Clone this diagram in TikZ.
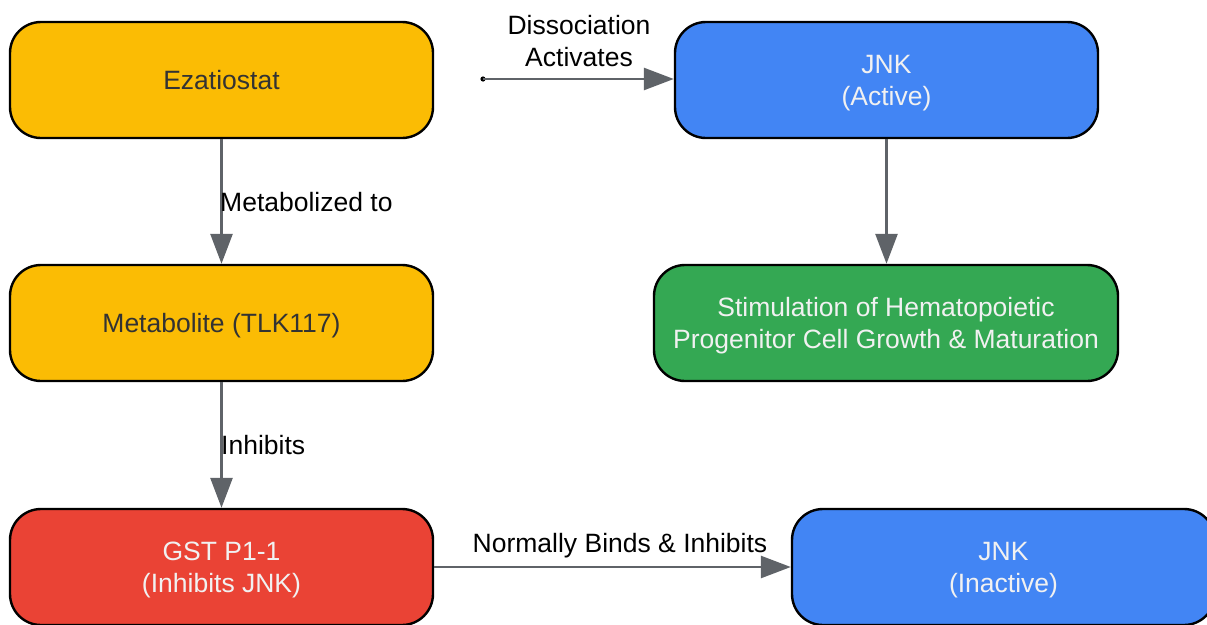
\documentclass[tikz,border=0pt]{standalone}
\usepackage{fontspec}
\setmainfont{Liberation Sans}
\usetikzlibrary{arrows.meta}
\definecolor{gyellow}{HTML}{FBBC04}
\definecolor{gblue}{HTML}{4285F4}
\definecolor{ggreen}{HTML}{34A853}
\definecolor{gred}{HTML}{EA4335}
\definecolor{arrowgray}{HTML}{5F6368}
\definecolor{darktext}{HTML}{333333}
\definecolor{lighttext}{HTML}{F1F1F1}
\newcommand\topst{\rule{0pt}{0.905em}}
\newcommand\botst{\rule[-0.212em]{0pt}{0pt}}
\tikzset{
  box/.style={draw=black, line width=2.4pt, rounded corners=31pt, minimum height=116pt,
    align=center, inner sep=0pt, font=\fontsize{26.5}{32}\selectfont},
  conn/.style={draw=arrowgray, line width=2.7pt, -{Triangle[length=30pt,width=22pt]}},
  lbl/.style={font=\fontsize{26.5}{32}\selectfont, text=black, align=center, inner sep=0pt}
}
\begin{document}
\begin{tikzpicture}[x=1pt,y=-1pt]
\useasboundingbox (0,0) rectangle (1207,624);
\clip (0,0) rectangle (1207,624);
\node[box, fill=gyellow, text=darktext, minimum width=423pt] (ez) at (221.5,80) {\topst Ezatiostat\botst};
\node[box, fill=gyellow, text=darktext, minimum width=423pt] (met) at (221.5,323) {\topst Metabolite (TLK117)\botst};
\node[box, fill=gred, text=lighttext, minimum width=423pt] (gst) at (221.5,567) {\topst GST P1-1\\(Inhibits JNK)\botst};
\node[box, fill=gblue, text=lighttext, minimum width=423pt] (jnka) at (886.5,80) {\topst JNK\\(Active)\botst};
\node[box, fill=ggreen, text=lighttext, minimum width=464pt] (stim) at (886,323) {\topst Stimulation of Hematopoietic\\Progenitor Cell Growth \& Maturation\botst};
\node[box, fill=gblue, text=lighttext, minimum width=423pt] (jnki) at (1003.5,567) {\topst JNK\\(Inactive)\botst};
\coordinate (dot) at (483,79);
\fill[black] (dot) circle (2.6pt);
\draw[conn] (dot) -- (jnka.west |- dot);
\draw[conn] (ez) -- (met);
\draw[conn] (met) -- (gst);
\draw[conn] (gst) -- (jnki);
\draw[conn] (jnka) -- (jnka |- stim.north);
\node[lbl] (l1) at (579,41) {Dissociation\\Activates};
\node[lbl, anchor=west] (l2) at (220,202) {Metabolized to};
\node[lbl, anchor=west] (l3) at (221,445) {Inhibits};
\node[lbl] (l4) at (620,546) {Normally Binds \& Inhibits};
\end{tikzpicture}
\end{document}
